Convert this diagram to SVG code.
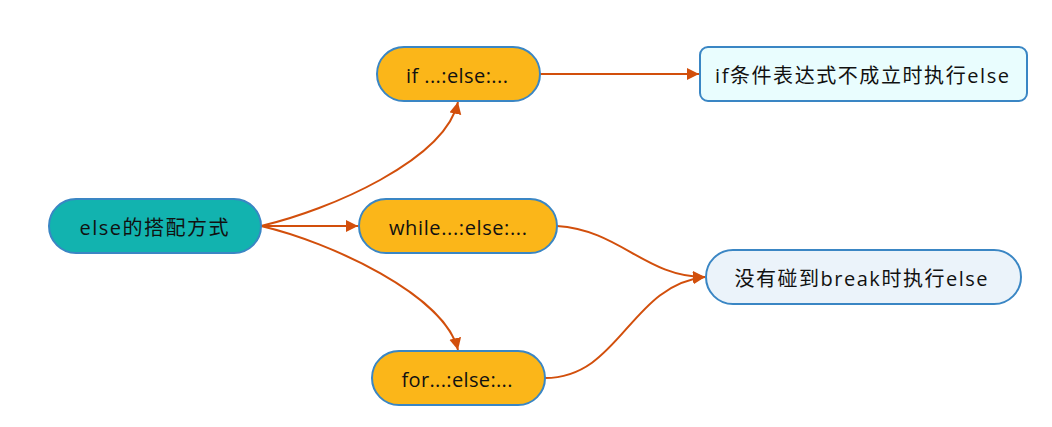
<svg xmlns="http://www.w3.org/2000/svg" width="1052" height="427" viewBox="0 0 1052 427">
<style>
.n{stroke:#3A86C4;stroke-width:2}
.t{font-family:"Open Sans","Noto Sans CJK SC",sans-serif;font-size:20px;fill:#111;text-anchor:middle;dominant-baseline:central}
.c{fill:none;stroke:#D24F0C;stroke-width:2}
</style>
<defs>
<marker id="a" markerUnits="userSpaceOnUse" markerWidth="14" markerHeight="14" refX="12" refY="6" orient="auto">
<path d="M0,0 L12,6 L0,12 Z" fill="#D24F0C"/>
</marker>
</defs>
<rect width="1052" height="427" fill="#fff"/>
<g id="connectors">
<path class="c" marker-end="url(#a)" d="M261,226 C330,210 445,160 458,102"/>
<path class="c" marker-end="url(#a)" d="M261,226 L358,226"/>
<path class="c" marker-end="url(#a)" d="M261,226 C330,242 445,295 458,350"/>
<path class="c" marker-end="url(#a)" d="M540,74 L699,74"/>
<path class="c" marker-end="url(#a)" d="M557,226 C620,230 645,277 705,277"/>
<path class="c" marker-end="url(#a)" d="M545,378 C620,378 630,285 705,277"/>
</g>
<g id="root">
<rect class="n" x="49" y="199" width="212" height="54" rx="27" fill="#12B3AF"/>
<text class="t" x="154" y="227" textLength="149">else的搭配方式</text>
</g>
<g id="if">
<rect class="n" x="377" y="47" width="163" height="54" rx="27" fill="#FBB619"/>
<text class="t" x="457" y="75" textLength="102">if ...:else:...</text>
</g>
<g id="while">
<rect class="n" x="359" y="199" width="198" height="54" rx="27" fill="#FBB619"/>
<text class="t" x="458" y="227" textLength="138">while...:else:...</text>
</g>
<g id="for">
<rect class="n" x="372" y="351" width="173" height="54" rx="27" fill="#FBB619"/>
<text class="t" x="457" y="379" textLength="111">for...:else:...</text>
</g>
<g id="ifresult">
<rect class="n" x="700" y="47" width="327" height="54" rx="8" fill="#E9FDFE"/>
<text class="t" x="862" y="75" textLength="294">if条件表达式不成立时执行else</text>
</g>
<g id="breakresult">
<rect class="n" x="706" y="250" width="315" height="54" rx="27" fill="#EBF3FA"/>
<text class="t" x="861" y="278" textLength="253">没有碰到break时执行else</text>
</g>
</svg>
